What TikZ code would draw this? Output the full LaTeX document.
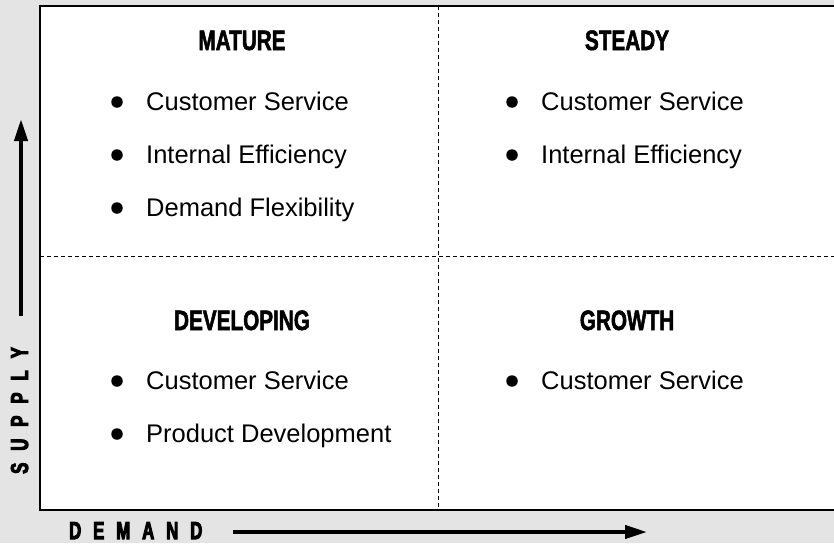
\documentclass[tikz,border=0pt]{standalone}
\usepackage{fontspec}
\setmainfont{Liberation Sans}
\newfontfamily\headfont{Liberation Sans}[UprightFont={* Bold}, FakeStretch=0.74, FakeBold=1.8]
\newfontfamily\axisfont{Liberation Sans}[UprightFont={* Bold}, FakeStretch=0.68, FakeBold=4]
\usetikzlibrary{arrows.meta}
\definecolor{bggray}{HTML}{E4E4E4}
\tikzset{
  title/.style={font=\headfont\fontsize{28}{30}\selectfont, anchor=base, inner sep=0pt},
  item/.style={font=\fontsize{25.5}{29}\selectfont, anchor=base west, inner sep=0pt},
  dot/.style={circle, fill=black, minimum size=11.5pt, inner sep=0pt},
  divider/.style={line width=0.9pt, dash pattern=on 4pt off 3pt},
  axislabel/.style={font=\axisfont\fontsize{24.5}{26}\selectfont, inner sep=0pt},
  axisarrow/.style={line width=4pt, -{Triangle[length=22pt,width=13pt]}}
}
\newcommand{\lsp}{\hspace{12pt}}
\begin{document}
\begin{tikzpicture}[x=1pt,y=-1pt]
\useasboundingbox (0,0) rectangle (834,543);
\fill[bggray] (0,0) rectangle (834,543);
\begin{scope}
\clip (0,0) rectangle (834,543);
\fill[white] (40,6) rectangle (840,510);
\draw[line width=1.4pt] (40,6) rectangle (840,510);
\end{scope}
\coordinate (vt) at (438,6);
\coordinate (vb) at (438,510);
\coordinate (hl) at (40,256);
\coordinate (hr) at (834,256);
\draw[divider] (vt) -- (vb);
\draw[divider] (hl) -- (hr);

% titles
\node[title] (mature) at (242,50) {MATURE};
\node[title] (steady) at (627,50) {STEADY};
\node[title] (developing) at (242,330) {DEVELOPING};
\node[title] (growth) at (627,330) {GROWTH};

% MATURE items
\node[dot] (m1d) at (117,102) {};
\node[item] (m1) at (146,110) {Customer Service};
\node[dot] (m2d) at (117,155) {};
\node[item] (m2) at (146,163) {Internal Efficiency};
\node[dot] (m3d) at (117,208) {};
\node[item] (m3) at (146,216) {Demand Flexibility};

% STEADY items
\node[dot] (s1d) at (512,102) {};
\node[item] (s1) at (541,110) {Customer Service};
\node[dot] (s2d) at (512,155) {};
\node[item] (s2) at (541,163) {Internal Efficiency};

% DEVELOPING items
\node[dot] (d1d) at (117,381) {};
\node[item] (d1) at (146,389) {Customer Service};
\node[dot] (d2d) at (117,434) {};
\node[item] (d2) at (146,442) {Product Development};

% GROWTH items
\node[dot] (g1d) at (512,381) {};
\node[item] (g1) at (541,389) {Customer Service};

% axes
\node[axislabel, anchor=base west] (demand) at (69,539) {D\lsp E\lsp M\lsp A\lsp N\lsp D};
\coordinate (demandstart) at (233,532);
\coordinate (demandend) at (647,532);
\draw[axisarrow] (demandstart) -- (demandend);

\node[axislabel, rotate=90, anchor=base west] (supply) at (28,474) {S\lsp U\lsp P\lsp P\lsp L\lsp Y};
\coordinate (supplystart) at (21,316);
\coordinate (supplyend) at (21,119);
\draw[axisarrow] (supplystart) -- (supplyend);
\end{tikzpicture}
\end{document}
